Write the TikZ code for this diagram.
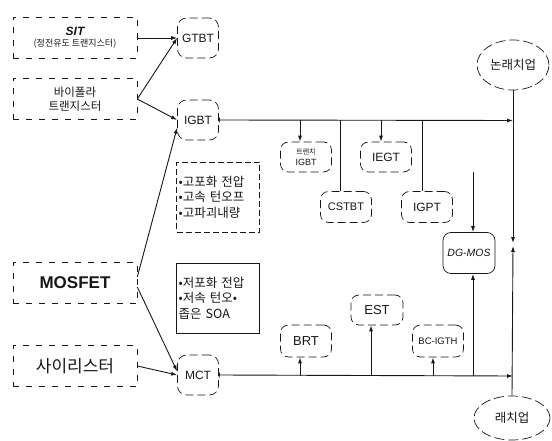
\documentclass[tikz,border=0pt]{standalone}
\usepackage{fontspec}
\setmainfont{Liberation Sans}
\newfontfamily\kr{Noto Sans CJK KR}
\usetikzlibrary{arrows.meta,shapes.geometric}

\begin{document}
\begin{tikzpicture}[x=1pt,y=-1pt]
  \definecolor{ink}{RGB}{24,24,24}
  \tikzset{
    srcbox/.style={draw=ink,line width=0.6pt,dash pattern=on 6pt off 7pt,
      minimum width=124pt,minimum height=41pt,inner sep=0pt,align=center,text=ink},
    devbox/.style={draw=ink,line width=0.7pt,dash pattern=on 8pt off 4pt,rounded corners=9pt,
      minimum width=41pt,minimum height=40pt,inner sep=0pt,text=ink,font=\fontsize{12}{14}\selectfont},
    subbox/.style={draw=ink,line width=0.7pt,dash pattern=on 8pt off 4pt,rounded corners=8pt,
      minimum width=51pt,minimum height=31pt,inner sep=0pt,align=center,text=ink},
    notebox/.style={draw=ink,line width=0.7pt,minimum width=83pt,minimum height=70pt,
      text width=79pt,inner sep=2pt,align=left,text=ink,font=\kr\fontsize{12.5}{15.5}\selectfont},
    endcap/.style={draw=ink,ellipse,line width=0.7pt,dash pattern=on 10pt off 4pt,inner sep=0pt,
      text=ink,font=\kr\fontsize{12.5}{14}\selectfont},
    flow/.style={draw=ink,line width=0.9pt,-{Latex[length=6pt,width=4pt]}},
    wire/.style={draw=ink,line width=0.9pt},
  }
  \useasboundingbox[fill=white] (0,0) rectangle (552,441);

  % source devices
  \node[srcbox] (sit) at (75,38)
    {\fontsize{12}{14}\selectfont\bfseries\itshape SIT\\[-1pt]\kr\fontsize{9}{11}\selectfont (정전유도 트랜지스터)};
  \node[srcbox,font=\kr\fontsize{11.5}{14}\selectfont] (bip) at (75,99) {바이폴라\\트랜지스터};
  \node[srcbox,font=\fontsize{17}{20}\selectfont\bfseries] (mosfet) at (75,283) {MOSFET};
  \node[srcbox,font=\kr\fontsize{17}{20}\selectfont] (thy) at (75,366) {사이리스터};

  % composite devices
  \node[devbox] (gtbt) at (198,38) {GTBT};
  \node[devbox] (igbt) at (198,120) {IGBT};
  \node[devbox] (mct) at (198,375) {MCT};

  % notes
  \node[notebox,dash pattern=on 6pt off 3pt] (hinote) at (218,197)
    {•고포화 전압\\•고속 턴오프\\•고파괴내량};
  \node[notebox] (lonote) at (218,298)
    {•저포화 전압\\•저속 턴오•\\좁은 SOA};

  % end states
  \node[endcap,minimum width=72pt,minimum height=50pt] (nolatch) at (513,65) {논래치업};
  \node[endcap,minimum width=76pt,minimum height=44pt] (latch) at (512,418) {래치업};

  % derived structures
  \node[subbox,minimum height=30pt] (trigbt) at (306,157)
    {\kr\fontsize{7}{8}\selectfont 트렌치\\[-1pt]\fontsize{9}{10}\selectfont\normalfont IGBT};
  \node[subbox,minimum height=30pt,font=\fontsize{12}{14}\selectfont] (iegt) at (386,157) {IEGT};
  \node[subbox,font=\fontsize{11}{13}\selectfont] (cstbt) at (346,207) {CSTBT};
  \node[subbox,font=\fontsize{12}{14}\selectfont] (igpt) at (427,207) {IGPT};
  \node[subbox,solid,minimum width=52pt,minimum height=41pt,font=\fontsize{10.5}{12}\selectfont\itshape] (dgmos) at (469,253) {DG-MOS};
  \node[subbox,minimum height=32pt,font=\fontsize{13}{15}\selectfont] (brt) at (306,341) {BRT};
  \node[subbox,minimum width=52pt,minimum height=30pt,font=\fontsize{13}{15}\selectfont] (est) at (377,310) {EST};
  \node[subbox,minimum height=32pt,font=\fontsize{9.5}{11}\selectfont] (bcigth) at (438,341) {BC-IGTH};

  % bus points
  \coordinate (tbus) at (513,120.5);
  \coordinate (bbus) at (513,376);
  \coordinate (vdown) at (513,243);
  \coordinate (vup) at (513,246);
  \coordinate (t1) at (300,120.5);
  \coordinate (t2) at (340,120.5);
  \coordinate (t3) at (381,120.5);
  \coordinate (t4) at (422,120.5);
  \coordinate (dgtop) at (473,172);
  \coordinate (b1) at (300,376);
  \coordinate (b2) at (371,376);
  \coordinate (b3) at (433,376);
  \coordinate (b4) at (473,376);

  % inputs
  \draw[flow,{Bar[width=5pt]}-{Latex[length=6pt,width=4pt]}] (sit.east) -- (gtbt.west);
  \draw[flow] (bip.east) -- (gtbt.west);
  \draw[flow] (bip.east) -- (igbt.west);
  \draw[flow] ([yshift=6pt]mosfet.east) -- (igbt.200);
  \draw[flow] ([yshift=-4pt]mosfet.east) -- (mct.170);
  \draw[flow] (thy.east) -- (mct.west);

  % top bus
  \draw[flow,{Bar[width=5pt]}-{Latex[length=6pt,width=4pt]}] (igbt.east) -- (tbus);
  \draw[flow] (t1) -- (t1 |- trigbt.north);
  \draw[wire] (t2) -- (t2 |- cstbt.north);
  \draw[flow] (t3) -- (t3 |- iegt.north);
  \draw[wire] (t4) -- (t4 |- igpt.north);
  \draw[flow] (dgtop) -- (dgtop |- dgmos.north);

  % bottom bus
  \draw[flow,{Bar[width=5pt]}-{Latex[length=6pt,width=4pt]}] (mct.east) -- (bbus);
  \draw[flow] (b1) -- (b1 |- brt.south);
  \draw[flow] (b2) -- (b2 |- est.south);
  \draw[flow] (b3) -- (b3 |- bcigth.south);
  \draw[flow] (b4) -- (b4 |- dgmos.south);

  % trunk
  \draw[flow] (nolatch.south) -- (vdown);
  \draw[flow] (latch.north) -- (vup);
\end{tikzpicture}
\end{document}
